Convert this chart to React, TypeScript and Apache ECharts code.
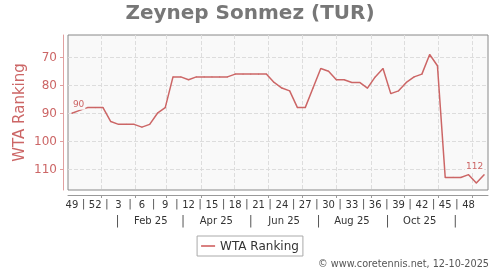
import React, { useEffect, useRef } from "react";
import * as echarts from "echarts";

// ISO week numbers of the weekly ranking dates (Dec 2024 -> Dec 2025)
const weeks = [
  "49", "50", "51", "52", "1", "2", "3", "4", "5", "6", "7", "8", "9", "10",
  "11", "12", "13", "14", "15", "16", "17", "18", "19", "20", "21", "22", "23",
  "24", "25", "26", "27", "28", "29", "30", "31", "32", "33", "34", "35", "36",
  "37", "38", "39", "40", "41", "42", "43", "44", "45", "46", "47", "48", "49", "50",
];

const ranking = [
  90, 89, 88, 88, 88, 93, 94, 94, 94, 95, 94, 90, 88, 77, 77, 78, 77, 77, 77,
  77, 77, 76, 76, 76, 76, 76, 79, 81, 82, 88, 88, 81, 74, 75, 78, 78, 79, 79,
  81, 77, 74, 83, 82, 79, 77, 76, 69, 73, 113, 113, 113, 112, 115, 112,
];

const weekLabelStep = 3;
const firstWeekDate = "2024-12-06";
const monthStarts = [
  "2025-01-01", "2025-02-01", "2025-03-01", "2025-04-01", "2025-05-01", "2025-06-01",
  "2025-07-01", "2025-08-01", "2025-09-01", "2025-10-01", "2025-11-01", "2025-12-01",
];
const monthLabels = ["Feb 25", "Apr 25", "Jun 25", "Aug 25", "Oct 25"];
const monthLabelDates = ["2025-02-15", "2025-04-15", "2025-06-15", "2025-08-15", "2025-10-15"];
const monthSeparatorDates = ["2025-01-16", "2025-03-16", "2025-05-16", "2025-07-16", "2025-09-16", "2025-11-16"];
const rankTicks = [70, 80, 90, 100, 110];

const WEEK_MS = 7 * 86400000;
const toPos = (d: string) => (Date.parse(d) - Date.parse(firstWeekDate)) / WEEK_MS;

export default function App() {
  const ref = useRef<HTMLDivElement>(null);
  useEffect(() => {
    if (!ref.current) return;
    const chart = echarts.init(ref.current, null, { renderer: "svg" });
    const font = "DejaVu Sans";
    const red = "#cc6666";
    const labelPos = monthLabelDates.map(toPos);
    const sepPos = monthSeparatorDates.map(toPos);
    const allMonthLabelPos = [...labelPos, ...sepPos].sort((a, b) => a - b);
    const weekSepPos = weeks
      .map((_, i) => i)
      .filter((i) => i % weekLabelStep === 0 && i + weekLabelStep < weeks.length)
      .map((i) => i + weekLabelStep / 2);
    const lastIdx = ranking.length - 1;
    const seriesData = ranking.map((v, i) => {
      if (i === 0 || i === lastIdx) {
        return {
          value: v,
          label: {
            show: true,
            position: "top",
            distance: 3,
            align: i === 0 ? "left" : "right",
            color: red,
            fontSize: 9,
            fontFamily: font,
            backgroundColor: "#f9f9f9",
            padding: [0, 1, 1, 1],
          },
        };
      }
      return v;
    });
    const indexAxisBase = {
      type: "value",
      position: "bottom",
      offset: 5,
      min: -0.5,
      max: ranking.length - 0.5,
    };
    chart.setOption({
      animation: false,
      textStyle: { fontFamily: font },
      title: [
        {
          text: "Zeynep Sonmez (TUR)",
          left: "center",
          top: 0,
          padding: [2, 5, 2, 5],
          textStyle: { fontSize: 20, fontWeight: "bold", color: "#777777", fontFamily: font },
        },
        {
          text: "© www.coretennis.net, 12-10-2025",
          right: 6,
          bottom: 0,
          padding: [0, 5, 2, 5],
          textStyle: { fontSize: 9.7, fontWeight: "normal", color: "#555555", fontFamily: font },
        },
      ],
      legend: {
        top: 236,
        left: "center",
        padding: [4, 4, 4, 4],
        itemWidth: 14,
        itemHeight: 2,
        borderColor: "#aaaaaa",
        borderWidth: 1,
        backgroundColor: "#ffffff",
        textStyle: { fontSize: 12, color: "#333333", fontFamily: font },
        data: [{ name: "WTA Ranking", icon: "rect", itemStyle: { color: "#d98080" } }],
      },
      grid: {
        left: 68,
        right: 12,
        top: 35,
        bottom: 80,
        show: true,
        backgroundColor: "#f9f9f9",
        borderColor: "#888888",
        borderWidth: 1,
      },
      xAxis: [
        {
          type: "category",
          data: weeks,
          position: "bottom",
          offset: 5,
          boundaryGap: true,
          axisLine: { show: false, onZero: false },
          axisTick: { show: false },
          splitLine: { show: false },
          axisLabel: {
            interval: weekLabelStep - 1,
            margin: 4,
            color: "#333333",
            fontSize: 10,
            fontFamily: font,
          },
        },
        {
          ...indexAxisBase,
          axisLine: { show: true, onZero: false, lineStyle: { color: "#999999", width: 1 } },
          axisTick: {
            show: true,
            length: 3,
            customValues: monthStarts.map(toPos),
            lineStyle: { color: "#999999" },
          },
          splitLine: { show: true, lineStyle: { color: "#dddddd", type: "dashed", width: 1 } },
          axisLabel: {
            margin: 20,
            color: "#333333",
            fontSize: 10,
            fontFamily: font,
            customValues: allMonthLabelPos,
            formatter: (v: number) => {
              const k = labelPos.findIndex((p) => Math.abs(p - v) < 1e-6);
              if (k >= 0) return monthLabels[k];
              return "{s||}";
            },
            rich: { s: { fontSize: 12, color: "#555555" } },
          },
        },
        {
          ...indexAxisBase,
          axisLine: { show: false, onZero: false },
          axisTick: { show: false },
          splitLine: { show: false },
          axisLabel: {
            margin: 3,
            color: "#555555",
            fontSize: 11,
            fontFamily: font,
            customValues: weekSepPos,
            formatter: () => "|",
          },
        },
      ],
      yAxis: {
        type: "value",
        inverse: true,
        min: 62,
        max: 117.5,
        position: "left",
        offset: 5,
        name: "WTA Ranking",
        nameLocation: "middle",
        nameGap: 37,
        nameMoveOverlap: false,
        nameTextStyle: { color: red, fontSize: 15, fontFamily: font },
        axisLine: { show: true, onZero: false, lineStyle: { color: "#e0a0a0", width: 1 } },
        axisTick: { show: true, length: 3, customValues: rankTicks, lineStyle: { color: "#e0a0a0" } },
        axisLabel: { customValues: rankTicks, color: red, fontSize: 12, margin: 6, fontFamily: font },
        splitLine: { show: true, lineStyle: { color: "#dddddd", type: "dashed", width: 1 } },
      },
      series: [
        {
          name: "WTA Ranking",
          type: "line",
          xAxisIndex: 0,
          yAxisIndex: 0,
          data: seriesData,
          symbol: "circle",
          symbolSize: 1,
          showSymbol: true,
          lineStyle: { color: red, width: 1.5 },
          itemStyle: { color: red },
        },
      ],
    });
    return () => chart.dispose();
  }, []);
  return <div ref={ref} style={{ position: "fixed", left: 0, top: 0, width: 500, height: 270 }} />;
}
